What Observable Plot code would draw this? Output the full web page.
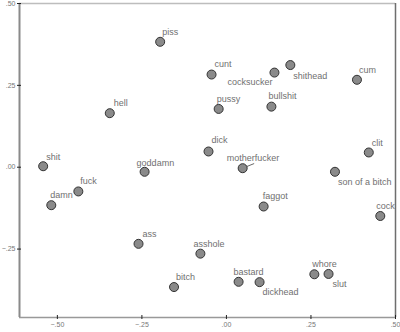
<!DOCTYPE html>
<html>
<head>
<meta charset="utf-8">
<script src="https://cdn.jsdelivr.net/npm/d3@7"></script>
<script src="https://cdn.jsdelivr.net/npm/@observablehq/plot@0.6"></script>
<style>
  html, body { margin: 0; padding: 0; background: #fff; }
  #chart svg { display: block; }
</style>
</head>
<body>
<div id="chart"></div>
<script>
// ---- data ----
const words = ["piss","hell","shit","goddamn","fuck","damn","ass","bitch","asshole",
  "motherfucker","son of a bitch","faggot","cock","bastard","dickhead","whore","slut",
  "cunt","cocksucker","shithead","cum","pussy","bullshit","dick","clit"];
const dim1 = [-0.196,-0.345,-0.542,-0.242,-0.438,-0.518,-0.260,-0.155,-0.077,
  0.048,0.321,0.110,0.455,0.036,0.098,0.260,0.302,
  -0.044,0.142,0.189,0.386,-0.023,0.133,-0.053,0.421];
const dim2 = [0.383,0.165,0.003,-0.014,-0.074,-0.116,-0.234,-0.366,-0.264,
  -0.003,-0.014,-0.120,-0.149,-0.350,-0.351,-0.327,-0.326,
  0.283,0.289,0.312,0.267,0.178,0.185,0.048,0.045];
const xTicks = [-0.5, -0.25, 0, 0.25, 0.5];
const yTicks = [-0.25, 0, 0.25, 0.5];

// ---- layout (label nudges in px: [dx, dy, anchor]) ----
const labelNudge = [[2,-10,"start"],[4,-10,"start"],[3,-9,"start"],[-8,-9,"start"],[2,-10,"start"],
  [-1,-10,"start"],[4,-10,"start"],[2,-10,"start"],[-7,-10,"start"],
  [-16,-10,"start"],[3,10,"start"],[-1,-10,"start"],[-4,-10,"start"],[-5,-10,"start"],[3,10,"start"],
  [-2,-10,"start"],[4,10,"start"],
  [3,-10,"start"],[-2,10,"end"],[3,11,"start"],[2,-10,"start"],[-2,-10,"start"],[-3,-11,"start"],[3,-11,"start"],[3,-9,"start"]];

const xDom = [-0.612, 0.5];
const yDom = [-0.459, 0.5];
const pts = words.map((w, i) => ({w, x: dim1[i], y: dim2[i], i}));
const fmt = v => d3.format(".2f")(v).replace("0.", ".");
const font = "Liberation Sans, Arial, sans-serif";

const labelMarks = pts.map(p => Plot.text([p], {
  x: "x", y: "y", text: "w",
  dx: labelNudge[p.i][0], dy: labelNudge[p.i][1], textAnchor: labelNudge[p.i][2],
  fontSize: 9, fill: "#707070", fontFamily: font
}));

const leader = [pts[words.indexOf("motherfucker")]];

const chart = Plot.plot({
  width: 400, height: 332,
  marginLeft: 19, marginRight: 5, marginTop: 3, marginBottom: 15,
  style: {background: "#fff", fontFamily: font},
  x: {domain: xDom, axis: null},
  y: {domain: yDom, axis: null},
  marks: [
    // frame
    Plot.ruleY([yDom[1]], {stroke: "#bdbdbd", strokeWidth: 1.5}),
    Plot.ruleX([xDom[1]], {stroke: "#6e6e6e", strokeWidth: 1.5}),
    Plot.ruleY([yDom[0]], {stroke: "#999", strokeWidth: 1.5}),
    Plot.ruleX([xDom[0]], {stroke: "#8a8a8a", strokeWidth: 2}),
    // tick marks crossing the axes
    Plot.ruleX(xTicks, {x: d => d, y1: yDom[0], y2: yDom[0], insetTop: -2, insetBottom: -2, stroke: "#222"}),
    Plot.ruleY(yTicks, {y: d => d, x1: xDom[0], x2: xDom[0], insetLeft: -2, insetRight: -2, stroke: "#222"}),
    // tick labels
    Plot.text(xTicks, {x: d => d, y: yDom[0], text: fmt, dy: 7, fontSize: 7, fill: "#777", fontFamily: font}),
    Plot.text(yTicks, {x: xDom[0], y: d => d, text: fmt, dx: -4, textAnchor: "end", fontSize: 7, fill: "#777", fontFamily: font}),
    // leader line
    Plot.vector(leader, {x: "x", y: "y", length: () => 12, rotate: () => 68, anchor: "start",
      stroke: "#555", strokeWidth: 0.8,
      shape: {draw(ctx, l) { ctx.moveTo(0, -4.5); ctx.lineTo(0, -l); }}}),
    ...labelMarks,
    Plot.dot(pts, {x: "x", y: "y", r: 4.5, fill: "#8a8a8a", stroke: "#333", strokeWidth: 1})
  ]
});
document.getElementById("chart").append(chart);
</script>
</body>
</html>
